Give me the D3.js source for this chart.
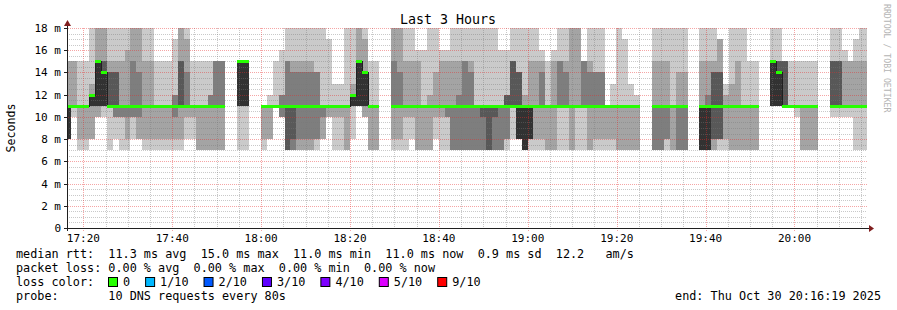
<!DOCTYPE html>
<html>
<head>
  <meta charset='utf-8'>
  <title>Last 3 Hours</title>
  <style>
    body { margin: 0; background: #fff; }
    svg text { font-family: 'DejaVu Sans Mono', monospace; white-space: pre; }
  </style>
</head>
<body>
<div id="chart"></div>
<script src="https://cdnjs.cloudflare.com/ajax/libs/d3/7.8.5/d3.min.js" charset="utf-8"></script>
<script>

// 10 sorted DNS round trips per 80s step (ms), null = no data. 19 = off the top of the chart
var pings = [
  [8,8,8,8,8,11,11,11,15,15],
  [10,11,11,11,11,11,11,11,15,15],
  [7,8,11,11,11,11,11,11,11,15],
  [7,8,11,11,11,11,11,11,11,15],
  [8,8,11,11,11,12,12,12,13,19],
  [10,10,11,11,11,15,15,15,19,19],
  [10,11,11,11,11,14,15,15,19,19],
  [7,11,11,11,11,11,14,14,15,19],
  [8,10,10,11,11,11,14,14,15,19],
  [7,10,10,11,11,11,11,11,15,19],
  [7,8,10,11,11,11,11,11,16,19],
  [8,10,10,11,11,11,11,15,19,19],
  [8,8,10,11,11,11,11,14,19,19],
  [7,8,11,11,11,11,11,11,15,19],
  [7,8,11,11,11,11,11,11,15,19],
  [7,8,11,11,11,11,11,11,11,15],
  [7,8,11,11,11,11,11,11,11,15],
  [7,8,11,11,11,11,11,11,11,15],
  [7,8,10,11,11,11,11,12,12,17],
  [7,8,11,11,11,11,15,15,19,19],
  [8,10,11,11,11,11,11,14,17,19],
  [8,10,11,11,11,11,11,11,11,15],
  [7,7,11,11,11,11,11,11,11,15],
  [7,7,11,11,11,11,11,11,11,15],
  [7,7,11,11,11,11,11,12,12,15],
  [7,7,11,11,11,11,11,15,15,15],
  [7,7,11,11,11,11,11,15,15,15],
  null, null,
  [7,11,11,11,11,15,15,15,15,15],
  [7,11,11,11,11,15,15,15,15,15],
  null, null,
  [7,8,11,11,11,11,11,11,11,11],
  [8,8,11,11,11,11,11,11,11,12],
  [11,11,11,11,11,11,11,11,11,15],
  [10,10,10,11,11,11,11,12,12,16],
  [7,7,7,7,11,11,11,15,15,19],
  [7,7,7,8,11,11,11,14,15,19],
  [7,7,8,11,11,11,11,14,15,19],
  [7,7,8,11,11,11,11,14,15,19],
  [7,7,8,11,11,11,11,14,15,19],
  [7,8,8,11,11,11,11,14,14,19],
  [8,8,10,11,11,11,11,11,11,19],
  [10,10,11,11,11,11,11,11,11,17],
  [7,10,11,11,11,11,11,11,11,13],
  [7,10,11,11,11,11,11,11,11,13],
  [7,7,11,11,11,11,11,11,11,19],
  [8,11,11,11,11,12,12,12,13,19],
  [11,11,11,11,11,15,15,15,19,19],
  [10,10,11,11,11,14,14,14,17,19],
  [7,7,11,11,11,11,11,11,11,15],
  [7,7,11,11,11,11,11,11,11,15],
  null, null,
  [7,8,11,11,11,11,11,15,19,19],
  [7,8,11,11,11,11,11,14,19,19],
  [7,10,11,11,11,11,11,11,15,19],
  [8,10,11,11,11,11,11,11,15,19],
  [7,7,11,11,11,11,11,11,15,16],
  [7,7,11,11,11,11,11,11,11,16],
  [7,7,11,11,11,11,11,11,12,19],
  [8,10,11,11,11,11,11,11,14,19],
  [7,10,11,11,11,11,11,11,15,16],
  [7,10,10,11,11,11,11,11,15,16],
  [7,7,7,11,11,11,11,11,15,19],
  [7,7,7,11,11,11,11,12,15,19],
  [7,7,7,11,11,11,11,15,15,19],
  [7,7,7,11,11,11,11,14,15,19],
  [7,7,7,11,11,11,11,11,11,19],
  [7,7,7,10,11,11,11,11,11,19],
  [7,7,7,7,11,11,11,11,11,19],
  [7,7,7,10,11,11,11,11,11,19],
  [7,7,7,11,11,11,11,11,11,16],
  [7,8,8,11,11,11,12,12,12,16],
  [8,11,11,11,11,11,15,15,15,19],
  [8,8,8,8,8,11,14,14,14,19],
  [7,7,7,7,7,11,11,11,12,19],
  [7,8,8,8,8,11,11,11,15,19],
  [7,8,11,11,11,11,11,11,15,18],
  [7,8,11,11,11,11,11,14,15,16],
  [7,7,11,11,11,11,11,11,11,15],
  [7,7,11,11,11,11,11,11,15,16],
  [7,11,11,11,11,11,11,15,15,19],
  [7,11,11,11,11,11,11,14,15,19],
  [7,7,11,11,11,11,11,11,19,19],
  [7,11,11,11,11,11,11,11,19,19],
  [7,11,11,11,11,11,11,15,15,15],
  [7,7,11,11,11,11,11,14,15,19],
  [7,8,11,11,11,11,11,14,14,19],
  [7,8,11,11,11,11,11,14,14,19],
  [7,8,11,11,11,11,11,11,11,11],
  [7,8,11,11,11,11,11,11,11,13],
  [7,7,11,11,11,11,11,11,11,19],
  [7,7,11,11,11,11,11,11,11,17],
  [7,7,11,11,11,11,11,11,11,13],
  [7,7,11,11,11,11,11,11,11,12],
  null, null,
  [7,7,7,11,11,11,11,11,15,19],
  [7,7,7,11,11,11,11,11,15,19],
  [7,8,8,11,11,11,11,11,15,19],
  [7,7,11,11,11,11,11,11,11,19],
  [7,7,7,11,11,11,11,11,14,19],
  [7,7,7,11,11,11,11,11,14,19],
  null, null,
  [7,7,7,7,7,11,11,11,15,19],
  [7,7,7,7,7,11,11,12,15,19],
  [7,7,8,8,11,11,14,14,15,19],
  [7,8,8,8,11,11,14,14,17,17],
  [7,8,11,11,11,11,11,11,12,13],
  [7,7,11,11,11,11,11,11,13,19],
  [7,7,11,11,11,11,11,11,15,19],
  [7,7,11,11,11,11,11,11,11,19],
  [7,7,11,11,11,11,11,11,11,15],
  [7,7,11,11,11,11,11,11,11,15],
  null, null,
  [11,11,11,11,11,15,15,15,15,19],
  [11,11,11,11,11,14,15,15,15,19],
  [11,11,11,11,11,11,15,15,15,15],
  [11,11,11,11,11,11,11,11,11,15],
  [10,11,11,11,11,11,11,11,11,15],
  [7,7,11,11,11,11,11,11,11,15],
  [7,7,11,11,11,11,11,11,11,15],
  [7,7,11,11,11,11,11,11,11,15],
  null, null,
  [10,11,11,11,11,11,15,15,15,19],
  [10,11,11,11,11,11,15,15,15,19],
  [10,11,11,11,11,11,11,11,15,16],
  [10,11,11,11,11,11,11,11,15,15],
  [7,11,11,11,11,11,11,11,15,17],
  [7,11,11,11,11,11,11,11,15,19],
  [7,11,11,11,11,11,11,11,15,19]
];

// median rtt per step (ms), all steps at 0 packet loss
var median = [
  11,11,11,11,12,15,14,11,11,11,
  11,11,11,11,11,11,11,11,11,11,
  11,11,11,11,11,11,11,null,null,15,
  15,null,null,11,11,11,11,11,11,11,
  11,11,11,11,11,11,11,11,12,15,
  14,11,11,null,null,11,11,11,11,11,
  11,11,11,11,11,11,11,11,11,11,
  11,11,11,11,11,11,11,11,11,11,
  11,11,11,11,11,11,11,11,11,11,
  11,11,11,11,11,11,11,null,null,11,
  11,11,11,11,11,null,null,11,11,11,
  11,11,11,11,11,11,11,null,null,15,
  14,11,11,11,11,11,11,null,null,11,
  11,11,11,11,11,11
];

var lossLabels = ['0', '1/10', '2/10', '3/10', '4/10', '5/10', '9/10'];
var lossColors = ['#26ff00', '#00b8ff', '#0059ff', '#5e00ff', '#7e00ff', '#dd00ff', '#ff0000'];
var smokeGrey = ['#cacaca', '#a4a4a4', '#7e7e7e', '#585858', '#323232'];

var legendLines = [
  'median rtt:  11.3 ms avg  15.0 ms max  11.0 ms min  11.0 ms now  0.9 ms sd  12.2   am/s',
  'packet loss: 0.00 % avg  0.00 % max  0.00 % min  0.00 % now',
  'loss color:',
  'probe:       10 DNS requests every 80s'
];

var width = 897, height = 310;
var plotL = 67, plotR = 867, plotT = 28, plotB = 228;

var tStart = new Date(2025, 9, 30, 17, 16, 19),
    tEnd = new Date(2025, 9, 30, 20, 16, 19),
    firstStep = new Date(2025, 9, 30, 17, 15, 56),
    stepMs = 80 * 1000;

var x = d3.scaleTime().domain([tStart, tEnd]).range([plotL, plotR]);
var y = d3.scaleLinear().domain([0, 18]).range([plotB, plotT]);

var svg = d3.select('#chart')
  .append('svg')
  .attr('width', width)
  .attr('height', height);

svg.append('defs').append('clipPath')
  .attr('id', 'plot')
  .append('rect')
    .attr('x', plotL)
    .attr('y', plotT)
    .attr('width', plotR - plotL)
    .attr('height', plotB - plotT);

var cols = pings.map(function(p, k) {
  var t0 = new Date(+firstStep + k * stepMs);
  return {t0: t0, t1: new Date(+t0 + stepMs), p: p, m: median[k]};
});
var filled = cols.filter(function(d) { return d.p; });

// smoke: band i spans ping i .. ping 11-i, darker toward the middle
var smoke = svg.append('g')
  .attr('clip-path', 'url(#plot)')
  .attr('shape-rendering', 'crispEdges');

smokeGrey.forEach(function(col, i) {
  smoke.append('g').selectAll('rect')
    .data(filled)
    .enter()
      .append('rect')
      .attr('x', function(d) { return Math.round(x(d.t0)); })
      .attr('width', function(d) { return Math.round(x(d.t1)) - Math.round(x(d.t0)); })
      .attr('y', function(d) { return Math.round(y(d.p[9 - i])); })
      .attr('height', function(d) { return Math.round(y(d.p[i])) - Math.round(y(d.p[9 - i])); })
      .attr('fill', col);
});

// grid, drawn over the smoke like rrdtool does
var grid = svg.append('g').attr('shape-rendering', 'crispEdges');
var minorCol = 'rgba(120,120,120,0.4)', majorCol = 'rgba(230,40,40,0.42)';

var minorY = d3.range(1, 37).map(function(v) { return v / 2; }).filter(function(v) { return v % 2 !== 0; });
var majorY = y.ticks(9).filter(function(v) { return v > 0; });
var minorX = x.ticks(d3.timeMinute.every(5));
var majorX = x.ticks(d3.timeMinute.every(20));

grid.selectAll('line.minory')
  .data(minorY)
  .enter()
    .append('line')
    .attr('x1', plotL).attr('x2', plotR)
    .attr('y1', function(d) { return Math.round(y(d)) + 0.5; })
    .attr('y2', function(d) { return Math.round(y(d)) + 0.5; })
    .attr('stroke', minorCol)
    .attr('stroke-dasharray', '1,1');

grid.selectAll('line.minorx')
  .data(minorX.filter(function(t) { return t.getMinutes() % 20 !== 0; }))
  .enter()
    .append('line')
    .attr('y1', plotT).attr('y2', plotB)
    .attr('x1', function(d) { return Math.round(x(d)) + 0.5; })
    .attr('x2', function(d) { return Math.round(x(d)) + 0.5; })
    .attr('stroke', minorCol)
    .attr('stroke-dasharray', '1,1');

grid.selectAll('line.majory')
  .data(majorY)
  .enter()
    .append('line')
    .attr('x1', plotL - 3).attr('x2', plotR)
    .attr('y1', function(d) { return Math.round(y(d)) + 0.5; })
    .attr('y2', function(d) { return Math.round(y(d)) + 0.5; })
    .attr('stroke', majorCol)
    .attr('stroke-dasharray', '1,1');

grid.selectAll('line.majorx')
  .data(majorX)
  .enter()
    .append('line')
    .attr('y1', plotT).attr('y2', plotB + 3)
    .attr('x1', function(d) { return Math.round(x(d)) + 0.5; })
    .attr('x2', function(d) { return Math.round(x(d)) + 0.5; })
    .attr('stroke', majorCol)
    .attr('stroke-dasharray', '1,1');

// median: thin dark step line, then loss-coloured segments per step
var mpath = d3.path();
var prev = null;
cols.forEach(function(d) {
  if (d.m == null) { prev = null; return; }
  var x0 = Math.round(x(d.t0)), x1 = Math.round(x(d.t1)), ym = Math.round(y(d.m)) + 0.5;
  if (prev === null) mpath.moveTo(x0, ym);
  else mpath.lineTo(x0, ym);
  mpath.lineTo(x1, ym);
  prev = d;
});
svg.append('path')
  .attr('clip-path', 'url(#plot)')
  .attr('d', mpath.toString())
  .attr('fill', 'none')
  .attr('stroke', '#202020')
  .attr('stroke-width', 1)
  .attr('shape-rendering', 'crispEdges');

svg.append('g')
  .attr('clip-path', 'url(#plot)')
  .attr('shape-rendering', 'crispEdges')
  .selectAll('rect')
  .data(cols.filter(function(d) { return d.m != null; }))
  .enter()
    .append('rect')
    .attr('x', function(d) { return Math.round(x(d.t0)); })
    .attr('width', function(d) { return Math.round(x(d.t1)) - Math.round(x(d.t0)); })
    .attr('y', function(d) { return Math.round(y(d.m)) - 1; })
    .attr('height', 3)
    .attr('fill', lossColors[0]);

// axes with arrows
var axisCol = '#1f1f1f', arrowCol = '#801f1f';
svg.append('line')
  .attr('x1', plotL - 3).attr('x2', plotR + 3)
  .attr('y1', plotB + 0.5).attr('y2', plotB + 0.5)
  .attr('stroke', axisCol);
svg.append('line')
  .attr('x1', plotL + 0.5).attr('x2', plotL + 0.5)
  .attr('y1', plotB + 3).attr('y2', plotT - 3)
  .attr('stroke', axisCol);
svg.append('path')
  .attr('d', 'M' + (plotR + 2) + ',' + (plotB - 3) + 'L' + (plotR + 7) + ',' + (plotB + 0.5) + 'L' + (plotR + 2) + ',' + (plotB + 4) + 'Z')
  .attr('fill', arrowCol);
svg.append('path')
  .attr('d', 'M' + (plotL - 3) + ',' + (plotT - 2) + 'L' + (plotL + 0.5) + ',' + (plotT - 8) + 'L' + (plotL + 4) + ',' + (plotT - 2) + 'Z')
  .attr('fill', arrowCol);

svg.selectAll('line.ytick')
  .data(y.ticks(9))
  .enter()
    .append('line')
    .attr('x1', plotL - 3).attr('x2', plotL)
    .attr('y1', function(d) { return Math.round(y(d)) + 0.5; })
    .attr('y2', function(d) { return Math.round(y(d)) + 0.5; })
    .attr('stroke', axisCol);

// tick labels
svg.selectAll('text.ylab')
  .data(y.ticks(9))
  .enter()
    .append('text')
    .attr('x', 61)
    .attr('y', function(d) { return y(d) + 4; })
    .attr('text-anchor', 'end')
    .attr('font-size', '11px')
    .text(function(d) { return d === 0 ? '0' : d + ' m'; });

var fmt = d3.timeFormat('%H:%M');
svg.selectAll('text.xlab')
  .data(majorX)
  .enter()
    .append('text')
    .attr('x', function(d) { return x(d); })
    .attr('y', 242)
    .attr('text-anchor', 'middle')
    .attr('font-size', '11px')
    .text(fmt);

svg.append('text')
  .attr('x', 448)
  .attr('y', 24)
  .attr('text-anchor', 'middle')
  .attr('font-size', '13.3px')
  .text('Last 3 Hours');

svg.append('text')
  .attr('transform', 'translate(15,128) rotate(-90)')
  .attr('text-anchor', 'middle')
  .attr('font-size', '11.6px')
  .text('Seconds');

svg.append('text')
  .attr('transform', 'translate(884,4) rotate(90)')
  .attr('font-size', '8.2px')
  .attr('fill', '#b4b4b4')
  .text('RRDTOOL / TOBI OETIKER');

// legend
var legendFont = '11.8px';
svg.selectAll('text.legend')
  .data(legendLines)
  .enter()
    .append('text')
    .attr('x', 16)
    .attr('y', function(d, i) { return 258 + i * 14; })
    .attr('font-size', legendFont)
    .text(function(d) { return d; });

var lx = 108;
lossLabels.forEach(function(lab, i) {
  svg.append('rect')
    .attr('x', lx + 0.5).attr('y', 277.5)
    .attr('width', 9).attr('height', 9)
    .attr('fill', lossColors[i])
    .attr('stroke', '#000');
  var t = svg.append('text')
    .attr('x', lx + 15)
    .attr('y', 286)
    .attr('font-size', legendFont)
    .text(lab);
  lx = lx + 15 + t.node().getComputedTextLength() + 15;
});

svg.append('text')
  .attr('x', 881)
  .attr('y', 300)
  .attr('text-anchor', 'end')
  .attr('font-size', legendFont)
  .text('end: Thu Oct 30 20:16:19 2025');

</script>
</body>
</html>
